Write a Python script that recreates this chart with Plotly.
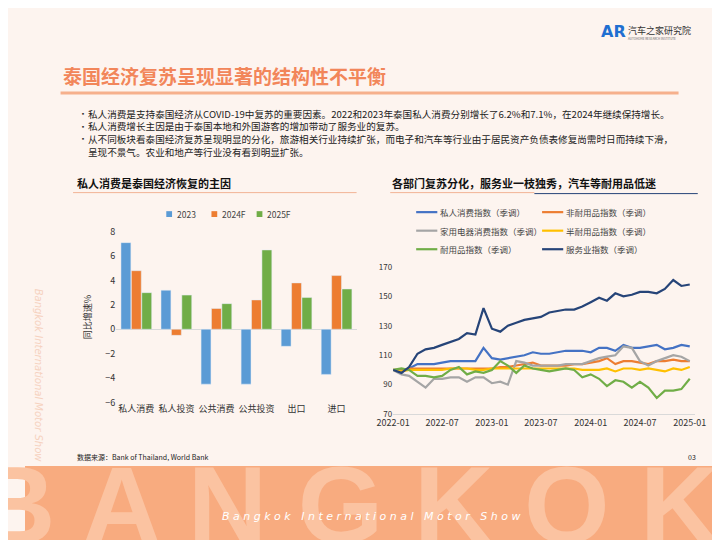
import plotly.graph_objects as go
import pandas as pd

categories = ["私人消费", "私人投资", "公共消费", "公共投资", "出口", "进口"]
g2023 = [7.1, 3.2, -4.5, -4.5, -1.4, -3.7]
g2024f = [4.8, -0.5, 1.7, 2.4, 3.8, 4.4]
g2025f = [3.0, 2.8, 2.1, 6.5, 2.6, 3.3]

months = pd.date_range("2022-01-01", periods=37, freq="MS")
private_idx = [100,99,101,104,104,104,105,106,106,106,106,115,108,107,108,109,110,112,111,111,112,113,113,113,112,115,115,113,117,115,115,116,117,114,115,117,116]
nondurable_idx = [100,100,101,101,101,101,101,101,101,101,101,101,101,102,102,103,104,105,103,103,103,103,104,104,105,106,108,104,106,106,105,104,106,106,107,106,106]
appliance_idx = [100,97,96,92,88,94,94,95,95,92,95,95,91,92,90,106,105,103,103,103,103,104,104,104,106,108,109,110,116,115,106,103,106,108,110,109,106]
semidurable_idx = [100,99,100,100,100,100,100,101,101,101,100,100,101,101,101,101,101,101,101,101,101,101,101,100,100,100,101,99,101,101,100,101,100,99,101,100,102]
durable_idx = [100,101,100,96,96,95,96,100,102,97,99,98,100,106,103,98,103,101,100,99,100,101,100,95,97,94,89,93,92,88,92,88,81,86,86,87,94]
service_idx = [100,98,102,111,114,115,117,119,121,125,124,142,128,126,130,132,134,135,136,139,140,141,141,143,146,149,147,152,150,151,153,153,152,155,161,157,158]

FONT = "Noto Sans CJK SC"
BG = "#fdf4ef"
W, H = 720, 540
def px(x): return x / W
def py(y): return 1 - y / H

bar_series = [("2023", g2023, "#5b9bd5"), ("2024F", g2024f, "#ed7d31"), ("2025F", g2025f, "#70ad47")]
lines = [
    ("私人消费指数（季调）", private_idx, "#4472c4"),
    ("非耐用品指数（季调）", nondurable_idx, "#ed7d31"),
    ("家用电器消费指数（季调）", appliance_idx, "#a5a5a5"),
    ("半耐用品指数（季调）", semidurable_idx, "#ffc000"),
    ("耐用品指数（季调）", durable_idx, "#70ad47"),
    ("服务业指数（季调）", service_idx, "#264478"),
]

fig = go.Figure()
for name, vals, col in bar_series:
    fig.add_trace(go.Bar(x=categories, y=vals, name=name, marker_color=col, xaxis="x", yaxis="y"))
for name, vals, col in lines:
    fig.add_trace(go.Scatter(x=months, y=vals, name=name, mode="lines", line=dict(color=col, width=2.2),
                             xaxis="x2", yaxis="y2"))

fig.update_layout(
    width=W, height=H, margin=dict(l=0, r=0, t=0, b=0), showlegend=False,
    paper_bgcolor=BG, plot_bgcolor=BG, font=dict(family=FONT, size=9, color="#333"),
    barmode="group", bargap=0.22, bargroupgap=0.05,
    xaxis=dict(domain=[px(95), px(345)], anchor="y", showgrid=False, ticks="", tickfont=dict(size=9)),
    yaxis=dict(domain=[py(397), py(222)], anchor="x", range=[-6, 8], dtick=2, showgrid=False, zeroline=True,
               zerolinecolor="#d9d9d9", zerolinewidth=1, tickfont=dict(size=9),
               title=dict(text="同比增速%", font=dict(size=9), standoff=12)),
    xaxis2=dict(domain=[px(383), px(697)], anchor="y2", type="date",
                range=["2022-01-01", "2025-01-20"], tick0="2022-01-01", dtick="M6", tickformat="%Y-%m",
                showgrid=False, showline=True, linecolor="#d9d9d9", ticks="", tickfont=dict(size=9)),
    yaxis2=dict(domain=[py(409), py(255)], anchor="x2", range=[70, 172], tick0=70, dtick=20, showgrid=False,
                zeroline=False, tickfont=dict(size=8)),
)

shapes = [
    dict(type="rect", xref="paper", yref="paper", x0=0, x1=1, y0=0, y1=py(462), fillcolor="#f8ab7f", line_width=0, layer="below"),
    dict(type="line", xref="paper", yref="paper", x0=px(37), x1=px(680), y0=py(80), y1=py(80), line=dict(color="#f6b08c", width=3)),
    dict(type="line", xref="paper", yref="paper", x0=px(50), x1=px(345), y0=py(182), y1=py(182), line=dict(color="#f2b395", width=1)),
    dict(type="line", xref="paper", yref="paper", x0=px(380), x1=px(530), y0=py(182), y1=py(182), line=dict(color="#f2b395", width=1)),
    dict(type="line", xref="paper", yref="paper", x0=px(530), x1=px(700), y0=py(183), y1=py(183), line=dict(color="#264478", width=1)),
]
ann = []
def A(x, y, text, size=9, color="#222", xanchor="left", **kw):
    ann.append(dict(xref="paper", yref="paper", x=px(x), y=py(y), text=text, showarrow=False,
                    xanchor=xanchor, yanchor="middle", font=dict(size=size, color=color, family=kw.pop("family", FONT)), **kw))

for i, (name, _, col) in enumerate(bar_series):
    x0 = 147 + i * 47
    shapes.append(dict(type="rect", xref="paper", yref="paper", x0=px(x0), x1=px(x0 + 6), y0=py(207), y1=py(201), fillcolor=col, line_width=0))
    A(x0 + 9, 204, name, size=8.5, color="#444")
for i, (name, _, col) in enumerate(lines):
    x0 = 407 + (i % 2) * 131
    y0 = 202 + (i // 2) * 19
    shapes.append(dict(type="line", xref="paper", yref="paper", x0=px(x0), x1=px(x0 + 22), y0=py(y0), y1=py(y0), line=dict(color=col, width=2.2)))
    A(x0 + 23, y0, name, size=8.5, color="#444")

A(725, 502, "<b>B A N G K O K</b>", size=110, color="#fbc3a1", xanchor="right", family="Liberation Sans")
A(360, 514, "<i>B a n g k o k   I n t e r n a t i o n a l   M o t o r   S h o w</i>", size=11, color="white", xanchor="center", family="DejaVu Sans")
A(14, 370, "<i>Bangkok International Motor Show</i>", size=10, color="#f6d2c0", xanchor="center", textangle=90, family="DejaVu Sans")
A(37, 62, "<b>泰国经济复苏呈现显著的结构性不平衡</b>", size=19, color="#f2865a")
A(612, 17, "<b>AR</b>", size=16, color="#1f6fd1", xanchor="center", family="DejaVu Sans")
A(625, 16, "汽车之家研究院", size=9, color="#333")
A(625, 25, "AUTOHOME RESEARCH INSTITUTE", size=3, color="#666")
bullets = [
    (101, "私人消费是支持泰国经济从COVID-19中复苏的重要因素。2022和2023年泰国私人消费分别增长了6.2%和7.1%，在2024年继续保持增长。"),
    (114, "私人消费增长主因是由于泰国本地和外国游客的增加带动了服务业的复苏。"),
    (127, "从不同板块看泰国经济复苏呈现明显的分化，旅游相关行业持续扩张，而电子和汽车等行业由于居民资产负债表修复尚需时日而持续下滑，"),
]
for y, t in bullets:
    A(55, y, "▪", size=6, color="#333")
    A(63, y, t, size=9.6, color="#222")
A(63, 140, "呈现不景气。农业和地产等行业没有看到明显扩张。", size=9.6, color="#222")
A(52, 172, "<b>私人消费是泰国经济恢复的主因</b>", size=11, color="#111")
A(380, 172, "<b>各部门复苏分化，服务业一枝独秀，汽车等耐用品低迷</b>", size=11, color="#111")
A(52, 453, "数据来源：Bank of Thailand, World Bank", size=7, color="#222")
A(700, 453, "03", size=7, color="#222", xanchor="right")
fig.update_layout(shapes=shapes, annotations=ann)

fig.write_html("out.html")
